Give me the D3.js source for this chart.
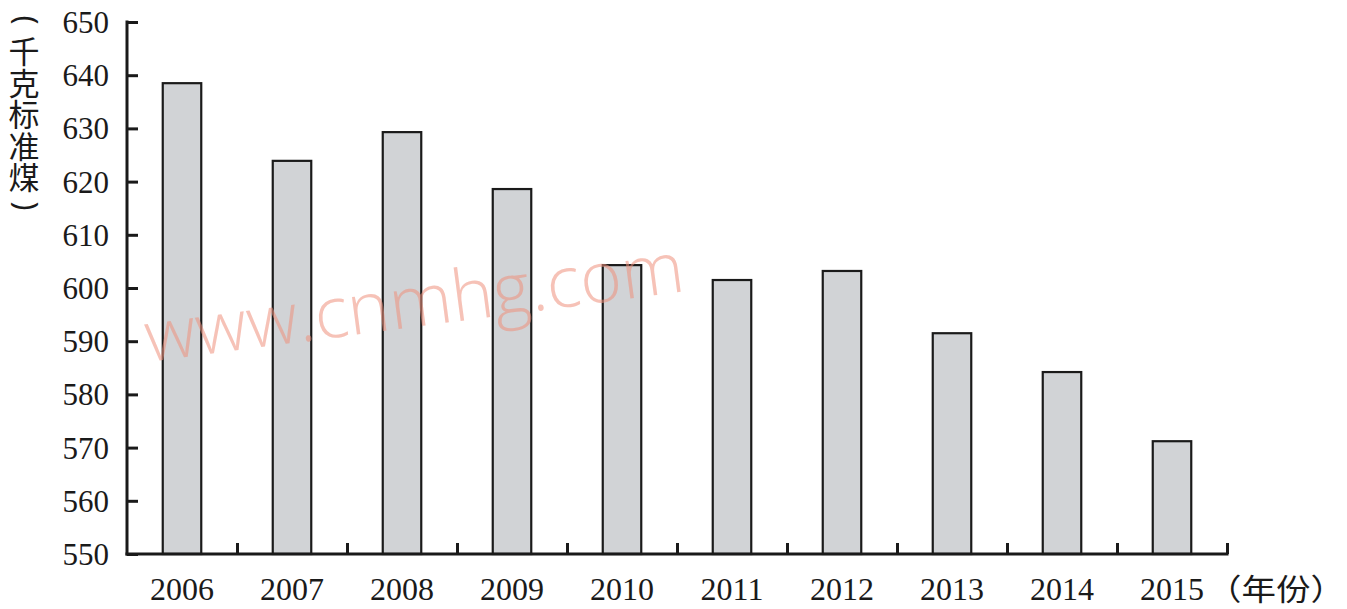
<!DOCTYPE html>
<html><head><meta charset="utf-8">
<script src="https://cdn.jsdelivr.net/npm/d3@7"></script>
<style>body{margin:0;background:#fff;}svg{display:block;}</style>
</head><body>
<svg id="chart" width="1347" height="609"></svg>
<script>
const years = ["2006","2007","2008","2009","2010","2011","2012","2013","2014","2015"];
const values = [638.5, 623.9, 629.3, 618.6, 604.3, 601.5, 603.2, 591.5, 584.2, 571.2];
const yTicks = [550,560,570,580,590,600,610,620,630,640,650];
const yUnit = "千克标准煤";
const yUnitParens = ["(", ")"];
const xUnit = "（年份）";

const svg = d3.select("#chart");
const pLeft = 127, pRight = 1227, pTop = 22, pBottom = 554;

const x = d3.scaleBand().domain(years).range([pLeft, pRight]).paddingInner(0.65).paddingOuter(0.325);
const xb = d3.scaleBand().domain(years).range([pLeft, pRight]);
const y = d3.scaleLinear().domain([550, 650]).range([pBottom, pTop]);

const serif = "'Liberation Serif','Times New Roman',serif";
const cjk = "'Noto Sans CJK SC','Noto Sans CJK JP',sans-serif";
const ink = "#1a1a1a";

// bars
svg.append("g").selectAll("rect").data(values).join("rect")
  .attr("x", (d,i) => x(years[i]))
  .attr("y", d => y(d))
  .attr("width", x.bandwidth())
  .attr("height", d => y(550) - y(d))
  .attr("fill", "#d1d3d6")
  .attr("stroke", ink)
  .attr("stroke-width", 2.2);

// y axis
const yAxis = d3.axisRight(y).tickValues(yTicks).tickSize(11).tickFormat("");
const gy = svg.append("g").attr("transform", `translate(${pLeft},0)`).call(yAxis);
gy.select(".domain").remove();
gy.selectAll(".tick line").attr("stroke", ink).attr("stroke-width", 3);
svg.append("line").attr("x1", pLeft).attr("x2", pLeft).attr("y1", y(650)-1.5).attr("y2", pBottom+1.5)
  .attr("stroke", ink).attr("stroke-width", 3);

svg.append("g").selectAll("text").data(yTicks).join("text")
  .attr("x", 109).attr("y", d => y(d) + 11)
  .attr("text-anchor", "end")
  .attr("font-family", serif).attr("font-size", 31).attr("fill", ink)
  .text(d => d);

// x axis
const xBound = years.map(d => xb(d) + xb.bandwidth());
const xAxisScale = d3.scaleLinear().domain([pLeft, pRight]).range([pLeft, pRight]);
const xAxis = d3.axisTop(xAxisScale).tickValues(xBound).tickSize(11).tickFormat("");
const gx = svg.append("g").attr("transform", `translate(0,${pBottom})`).call(xAxis);
gx.select(".domain").remove();
gx.selectAll(".tick line").attr("stroke", ink).attr("stroke-width", 3);
svg.append("line").attr("x1", pLeft-1.5).attr("x2", pRight+1.5).attr("y1", pBottom).attr("y2", pBottom)
  .attr("stroke", ink).attr("stroke-width", 3);

svg.append("g").selectAll("text").data(years).join("text")
  .attr("x", d => x(d) + x.bandwidth()/2).attr("y", 600)
  .attr("text-anchor", "middle")
  .attr("font-family", serif).attr("font-size", 32).attr("fill", ink)
  .text(d => d);

// x unit
svg.append("text").attr("transform", "translate(1207,600) scale(1.15,1)")
  .attr("font-family", cjk).attr("font-size", 30).attr("fill", ink)
  .text(xUnit);

// y unit (vertical)
svg.append("text")
  .attr("x", 24).attr("y", 36)
  .attr("writing-mode", "vertical-rl")
  .attr("letter-spacing", 0.5)
  .attr("font-family", cjk).attr("font-size", 31).attr("fill", ink)
  .text(yUnit);
svg.append("g").selectAll("text").data(yUnitParens).join("text")
  .attr("transform", (d,i) => `translate(15.5,${i === 0 ? 20 : 206}) rotate(90)`)
  .attr("text-anchor", "middle")
  .attr("font-family", "'Noto Sans','DejaVu Sans',sans-serif")
  .attr("font-size", 30).attr("fill", ink)
  .text(d => d);

// watermark
svg.append("text")
  .attr("transform", "translate(148,362) rotate(-7.5)")
  .attr("font-family", "'Open Sans',sans-serif")
  .attr("font-weight", 300)
  .attr("font-size", 71)
  .attr("fill", "#ef8f7c")
  .attr("fill-opacity", 0.55)
  .text("www.cnmhg.com");
</script>
</body></html>
